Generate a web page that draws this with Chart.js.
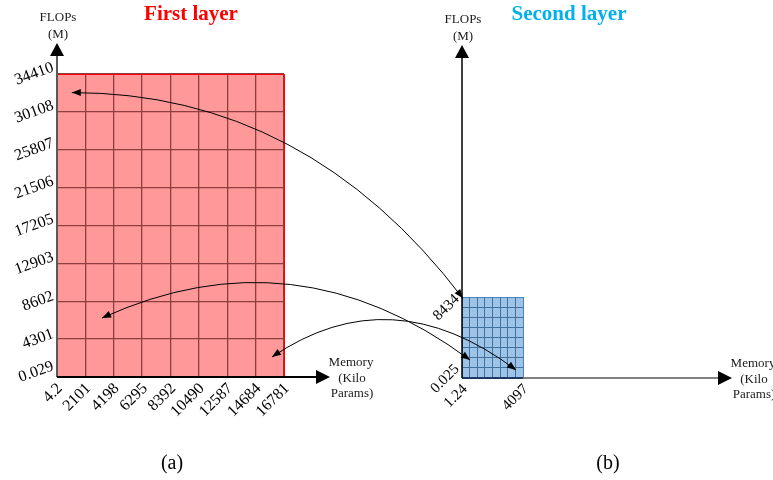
<!DOCTYPE html>
<html>
<head>
<meta charset="utf-8">
<script src="https://cdn.jsdelivr.net/npm/chart.js@4.4.1/dist/chart.umd.min.js"></script>
<style>
  body { margin: 0; background: #fff; }
  #wrap { position: relative; width: 773px; height: 480px; }
  #wrap canvas { position: absolute; left: 0; top: 0; }
</style>
</head>
<body>
<div id="wrap">
  <canvas id="firstLayer" width="773" height="480"></canvas>
  <canvas id="secondLayer" width="773" height="480"></canvas>
</div>
<script>
// layer sizes: memory in kilo params, FLOPs in millions
const layerNames = ["First layer", "Second layer"];
const memoryMin = [4.2, 1.24];
const memoryMax = [16781, 4097];
const flopsMin = [0.029, 0.025];
const flopsMax = [34410, 8434];

// tick labels
const firstMemoryTicks = [4.2, 2101, 4198, 6295, 8392, 10490, 12587, 14684, 16781];
const firstFlopsTicks = [0.029, 4301, 8602, 12903, 17205, 21506, 25807, 30108, 34410];
const secondMemoryTicks = [1.24, 4097];
const secondFlopsTicks = [0.025, 8434];

// mapping arrows: [memory, flops] in first layer <-> [memory, flops] in second layer
const arrowFrom = [[1100, 32300], [3330, 6700], [15890, 2270]];
const arrowTo = [[60, 8300], [540, 1870], [3630, 830]];

const SERIF = "'Liberation Serif', 'Times New Roman', serif";

function evenTicks(lo, hi, n) {
  const out = [];
  for (let k = 0; k <= n; k++) out.push(lo + (hi - lo) * k / n);
  return out;
}

function arrowHead(ctx, tx, ty, ang, len, half) {
  ctx.save();
  ctx.translate(tx, ty);
  ctx.rotate(ang);
  ctx.beginPath();
  ctx.moveTo(0, 0);
  ctx.lineTo(-len, -half);
  ctx.lineTo(-len, half);
  ctx.closePath();
  ctx.fill();
  ctx.restore();
}

// axes with arrows, tick labels, titles
const panelDecor = {
  id: "panelDecor",
  afterDraw(chart, args, o) {
    const ctx = chart.ctx;
    const xs = chart.scales.x, ys = chart.scales.y;
    const area = chart.chartArea;
    const ox = area.left, oy = area.bottom;
    ctx.save();

    // top and right edge of the block
    const ex = Math.round(xs.getPixelForValue(xs.max)) + 0.5;
    const ey = Math.round(ys.getPixelForValue(ys.max)) + 0.5;
    ctx.strokeStyle = o.edgeColor;
    ctx.lineWidth = 1;
    ctx.beginPath();
    ctx.moveTo(ox, ey);
    ctx.lineTo(ex, ey);
    ctx.lineTo(ex, oy);
    ctx.stroke();

    // y axis
    ctx.strokeStyle = o.yAxisColor;
    ctx.lineWidth = o.yAxisWidth;
    ctx.beginPath();
    ctx.moveTo(ox, oy);
    ctx.lineTo(ox, o.tipY + 12);
    ctx.stroke();
    ctx.fillStyle = "#000";
    arrowHead(ctx, ox, o.tipY, -Math.PI / 2, 13, 7);

    // x axis
    ctx.strokeStyle = o.xAxisColor;
    ctx.lineWidth = o.xAxisWidth;
    ctx.beginPath();
    ctx.moveTo(o.xAxisFromEdge ? area.right : ox, oy);
    ctx.lineTo(o.tipX - 12, oy);
    ctx.stroke();
    arrowHead(ctx, o.tipX, oy, 0, 14, 7);

    // axis names
    ctx.fillStyle = "#1a1a1a";
    ctx.font = "13px " + SERIF;
    ctx.textAlign = "center";
    ctx.textBaseline = "middle";
    ctx.fillText("FLOPs", ox + 1, o.tipY - 25);
    ctx.fillText("(M)", ox + 1, o.tipY - 8);
    ctx.fillText("Memory", o.tipX + 21, oy - 14);
    ctx.fillText("(Kilo", o.tipX + 22, oy + 2);
    ctx.fillText("Params)", o.tipX + 22, oy + 17);

    // tick labels
    ctx.fillStyle = "#000";
    ctx.font = o.tickSize + "px " + SERIF;
    o.yTicks.forEach((v, i) => {
      const py = ys.getPixelForValue(v) - (i === 0 ? o.originLift : 0);
      const w = ctx.measureText(String(v)).width;
      const a = o.yAngle * Math.PI / 180;
      ctx.save();
      if (o.yAngle === 45) {
        ctx.translate(ox - 5, py);
        ctx.rotate(-a);
        ctx.textAlign = "right";
      } else {
        ctx.translate(ox - 4 - (w / 2) * Math.cos(a), py);
        ctx.rotate(-a);
        ctx.textAlign = "center";
      }
      ctx.textBaseline = "middle";
      ctx.fillText(String(v), 0, 0);
      ctx.restore();
    });
    o.xTicks.forEach(v => {
      const px = xs.getPixelForValue(v);
      ctx.save();
      ctx.translate(px + 3, oy + 9);
      ctx.rotate(-Math.PI / 4);
      ctx.textAlign = "right";
      ctx.textBaseline = "middle";
      ctx.fillText(String(v), 0, 0);
      ctx.restore();
    });

    // title and caption
    ctx.font = "bold 21px " + SERIF;
    ctx.fillStyle = o.titleColor;
    ctx.textAlign = "center";
    ctx.textBaseline = "alphabetic";
    ctx.fillText(o.title, o.titleX, 20);
    ctx.font = "20px " + SERIF;
    ctx.fillStyle = "#000";
    ctx.textBaseline = "middle";
    ctx.fillText(o.caption, o.captionX, 464);
    ctx.restore();
  }
};

function panelConfig(i, xGrid, yGrid, st, decor, extraPlugins) {
  return {
    type: "line",
    data: {
      datasets: [{
        data: [{ x: memoryMin[i], y: flopsMax[i] }, { x: memoryMax[i], y: flopsMax[i] }],
        fill: "start",
        backgroundColor: st.fill,
        borderWidth: 0,
        pointRadius: 0
      }]
    },
    options: {
      responsive: false,
      animation: false,
      events: [],
      layout: { padding: st.area, autoPadding: false },
      plugins: {
        legend: { display: false },
        tooltip: { enabled: false },
        panelDecor: decor
      },
      scales: {
        x: {
          type: "linear",
          min: memoryMin[i],
          max: memoryMax[i],
          afterBuildTicks: s => { s.ticks = xGrid.map(v => ({ value: v })); },
          afterFit: s => { s.height = 0; },
          ticks: { display: false },
          border: { display: false },
          grid: { z: 1, drawTicks: false, lineWidth: st.gridWidth, color: st.grid }
        },
        y: {
          type: "linear",
          min: flopsMin[i],
          max: flopsMax[i],
          afterBuildTicks: s => { s.ticks = yGrid.map(v => ({ value: v })); },
          afterFit: s => { s.width = 0; },
          ticks: { display: false },
          border: { display: false },
          grid: {
            z: 1,
            drawTicks: false,
            lineWidth: c => c.index === 0 ? st.bottomWidth : st.gridWidth,
            color: c => c.index === 0 ? st.bottom : st.grid
          }
        }
      }
    },
    plugins: [panelDecor].concat(extraPlugins || [])
  };
}

const firstChart = new Chart(document.getElementById("firstLayer"), panelConfig(
  0, firstMemoryTicks, firstFlopsTicks,
  { fill: "#FF9999", grid: "#8E3E3E", gridWidth: 1.3, bottom: "#000", bottomWidth: 1,
    area: { left: 57, top: 74, right: 489, bottom: 103 } },
  { edgeColor: "#FF0000", yAxisColor: "#595959", yAxisWidth: 2, xAxisColor: "#000", xAxisWidth: 2,
    xAxisFromEdge: false, tipX: 330, tipY: 43, tickSize: 16, yAngle: 20, originLift: 5,
    yTicks: firstFlopsTicks, xTicks: firstMemoryTicks,
    title: layerNames[0], titleColor: "#FF0000", titleX: 191, caption: "(a)", captionX: 172 }
));

// curved arrows between the two layers
const layerArrows = {
  id: "layerArrows",
  afterDraw(chart) {
    const ctx = chart.ctx;
    const fx = firstChart.scales.x, fy = firstChart.scales.y;
    const sx = chart.scales.x, sy = chart.scales.y;
    const bend = [[0.6, 0], [0.524, -88], [0.488, -81]];
    ctx.save();
    ctx.strokeStyle = "#000";
    ctx.fillStyle = "#000";
    ctx.lineWidth = 1;
    arrowFrom.forEach((p, i) => {
      const ax = fx.getPixelForValue(p[0]), ay = fy.getPixelForValue(p[1]);
      const bx = sx.getPixelForValue(arrowTo[i][0]), by = sy.getPixelForValue(arrowTo[i][1]);
      const cx = ax + bend[i][0] * (bx - ax), cy = ay + bend[i][1];
      ctx.beginPath();
      ctx.moveTo(ax, ay);
      ctx.quadraticCurveTo(cx, cy, bx, by);
      ctx.stroke();
      arrowHead(ctx, ax, ay, Math.atan2(ay - cy, ax - cx), 9, 3.5);
      arrowHead(ctx, bx, by, Math.atan2(by - cy, bx - cx), 9, 3.5);
    });
    ctx.restore();
  }
};

const secondChart = new Chart(document.getElementById("secondLayer"), panelConfig(
  1, evenTicks(memoryMin[1], memoryMax[1], 8), evenTicks(flopsMin[1], flopsMax[1], 8),
  { fill: "#9DC3E6", grid: "#41719C", gridWidth: 1, bottom: "#1F3864", bottomWidth: 2,
    area: { left: 462, top: 297, right: 250, bottom: 102 } },
  { edgeColor: "#4A85BD", yAxisColor: "#000", yAxisWidth: 1.5, xAxisColor: "#808080", xAxisWidth: 2,
    xAxisFromEdge: true, tipX: 732, tipY: 45, tickSize: 15, yAngle: 45, originLift: 11,
    yTicks: secondFlopsTicks, xTicks: secondMemoryTicks,
    title: layerNames[1], titleColor: "#00B0F0", titleX: 569, caption: "(b)", captionX: 608 },
  [layerArrows]
));
</script>
</body>
</html>
